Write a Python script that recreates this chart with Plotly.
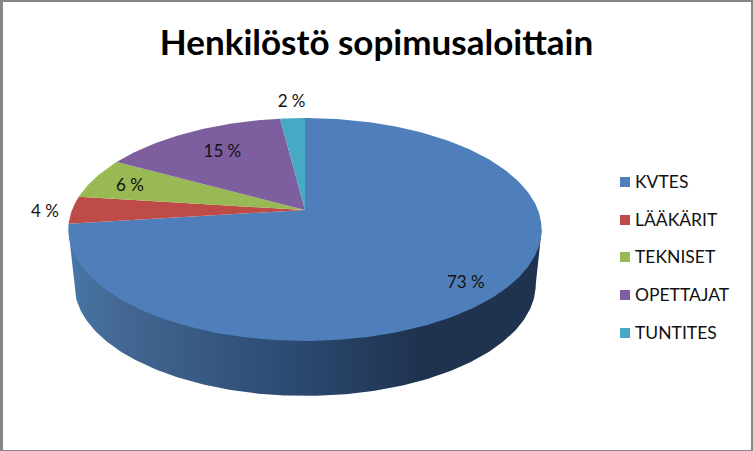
import numpy as np
import plotly.graph_objects as go

categories = ["KVTES", "LÄÄKÄRIT", "TEKNISET", "OPETTAJAT", "TUNTITES"]
shares = [73, 4, 6, 15, 2]
colors = ["#4f7fba", "#be4b48", "#98b954", "#7d5fa0", "#46aac4"]
label_radius = [0.85, 1.12, 0.83, 0.75, 1.19]
label_nudge = [(-4, 6), (1, 3), (1, 3), (6, 3), (1, -1)]
legend_rows = [182, 220, 257, 295, 333]

W, H = 753, 451
CX, CY = 305.0, 210.0
A, B, P = 233.0, 108.0, 0.175
DEPTH = 55.0
RIM_SCALE = 0.975
FONT = "Lato, Carlito, 'Open Sans', sans-serif"


def project(theta, r=1.0):
    w = 1 + P * r * np.cos(theta)
    return CX + A * r * np.sin(theta) / w, CY - B * r * np.cos(theta) / w


fig = go.Figure()

# side wall: visible part of the rim, between the two widest points of the face
t0 = np.arccos(-P)
t1 = 2 * np.pi - t0
ts = np.linspace(t0, t1, 240)
xt, yt = project(ts)
xi, yi = project(ts, 0.98)
xb = CX + (xt - CX) * RIM_SCALE
fig.add_trace(go.Scatter(
    x=np.r_[xt[0], xi, xt[-1], xb[::-1]], y=np.r_[yt[0], yi, yt[-1], yt[::-1] + DEPTH],
    mode="lines", line=dict(width=0), fill="toself",
    fillgradient=dict(type="horizontal", start=68, stop=541, colorscale=[
        [0.0, "#4a79b3"], [0.03, "#46729f"], [0.12, "#436792"], [0.33, "#34557f"],
        [0.5, "#2b486e"], [0.74, "#1f334f"], [1.0, "#1f334f"]]),
    showlegend=False, hoverinfo="skip"))

# top face: one filled wedge per category
edges = np.r_[0, np.cumsum(shares)] / sum(shares) * 2 * np.pi
for i, name in enumerate(categories):
    th = np.linspace(edges[i], edges[i + 1], max(int(shares[i] * 4), 8))
    x, y = project(th)
    fig.add_trace(go.Scatter(
        x=np.r_[CX, x, CX], y=np.r_[CY, y, CY], mode="lines",
        line=dict(width=0), fill="toself", fillcolor=colors[i],
        name=name, showlegend=False, hoverinfo="skip"))

# data labels
mids = (edges[:-1] + edges[1:]) / 2
pts = [project(m, r) for m, r in zip(mids, label_radius)]
fig.add_trace(go.Scatter(
    x=[p[0] + n[0] for p, n in zip(pts, label_nudge)],
    y=[p[1] + n[1] for p, n in zip(pts, label_nudge)],
    mode="text", text=[f"{s} %" for s in shares],
    textfont=dict(family=FONT, size=17, color="#111111"),
    showlegend=False, hoverinfo="skip"))

# legend: square swatches with their names beside them
fig.add_trace(go.Scatter(
    x=[625] * len(categories), y=legend_rows, mode="markers",
    marker=dict(symbol="square", size=10, color=colors, line=dict(width=0)),
    showlegend=False, hoverinfo="skip"))
fig.add_trace(go.Scatter(
    x=[635] * len(categories), y=[r + 2 for r in legend_rows], mode="text",
    text=categories, textposition="middle right",
    textfont=dict(family=FONT, size=17.5, color="#111111"),
    showlegend=False, hoverinfo="skip"))

border = "#868686"
shapes = [dict(type="rect", xref="x", yref="y", x0=a, x1=b, y0=c, y1=d,
               fillcolor=border, line=dict(width=0), layer="above")
          for a, b, c, d in [(0, 3, 0, H), (0, W, 0, 2), (751, W, 0, H), (0, W, 450, H)]]

fig.update_layout(
    width=W, height=H, margin=dict(l=0, r=0, t=0, b=0),
    paper_bgcolor="white", plot_bgcolor="white", showlegend=False,
    xaxis=dict(range=[0, W], visible=False, fixedrange=True),
    yaxis=dict(range=[H, 0], visible=False, fixedrange=True),
    shapes=shapes,
    title=dict(text="<b>Henkilöstö sopimusaloittain</b>", x=376.5 / W, xanchor="center",
               y=1 - 43 / H, yanchor="middle",
               font=dict(family=FONT, size=35, color="black")),
)

fig.write_html("out.html", config={"displayModeBar": False},
               post_script="document.body.style.margin='0';document.body.style.overflow='hidden';")
